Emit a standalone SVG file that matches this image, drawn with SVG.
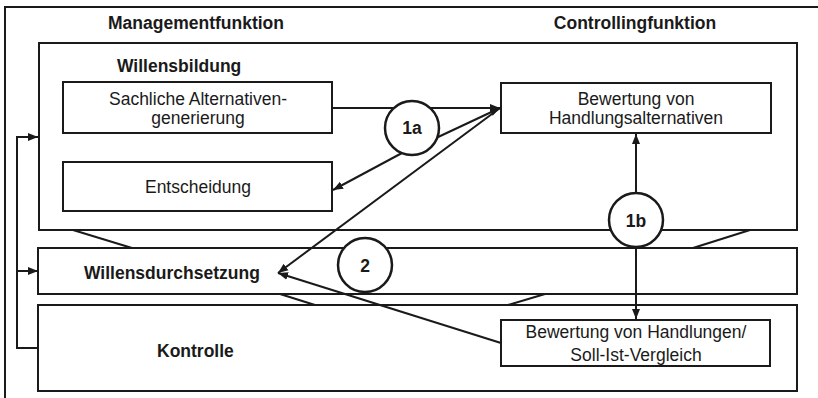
<svg xmlns="http://www.w3.org/2000/svg" width="818" height="398" viewBox="0 0 818 398">
<style>
.b{fill:#fff;stroke:#1a1a1a;stroke-width:2}
.l{fill:none;stroke:#1a1a1a;stroke-width:2}
.c{fill:#fff;stroke:#1a1a1a;stroke-width:2.5}
.t{font-family:"Liberation Sans",Arial,sans-serif;font-size:17.5px;fill:#1a1a1a}
.h{font-family:"Liberation Sans",Arial,sans-serif;font-size:17.5px;font-weight:bold;fill:#1a1a1a}
.m{text-anchor:middle}
</style>
<defs>
<marker id="a" viewBox="0 0 10 10" refX="10" refY="5" markerWidth="5" markerHeight="5" orient="auto-start-reverse" markerUnits="strokeWidth">
<path d="M0,1 L10,5 L0,9 z" fill="#1a1a1a"/>
</marker>
</defs>
<rect width="818" height="398" fill="#fff"/>
<path class="l" d="M5,398 V7 H818"/>
<text class="h m" x="196" y="29">Managementfunktion</text>
<text class="h m" x="635" y="29">Controllingfunktion</text>
<g id="willensbildung">
<rect class="b" x="39" y="43" width="758" height="187"/>
<text class="h" x="117" y="72">Willensbildung</text>
</g>
<g id="trapez">
<path class="l" d="M73,230 L132,248 M750,230 L693,248 M280,294 L315,305 M545,294 L508,305"/>
</g>
<g id="willensdurchsetzung">
<rect class="b" x="38" y="248" width="759" height="46"/>
<text class="h" x="84" y="279">Willensdurchsetzung</text>
</g>
<g id="kontrolle">
<rect class="b" x="38" y="305" width="759" height="86"/>
<text class="h" x="157" y="357">Kontrolle</text>
</g>
<g id="sachliche">
<rect class="b" x="63" y="82" width="269" height="51"/>
<text class="t m" x="198" y="105">Sachliche Alternativen-</text>
<text class="t m" x="198" y="124">generierung</text>
</g>
<g id="entscheidung">
<rect class="b" x="63" y="162" width="269" height="49"/>
<text class="t m" x="198" y="193">Entscheidung</text>
</g>
<g id="bewertung-alternativen">
<rect class="b" x="501" y="83" width="270" height="50"/>
<text class="t m" x="636" y="105">Bewertung von</text>
<text class="t m" x="636" y="124">Handlungsalternativen</text>
</g>
<g id="bewertung-handlungen">
<rect class="b" x="501" y="320" width="269" height="46"/>
<text class="t m" x="636" y="338">Bewertung von Handlungen/</text>
<text class="t m" x="636" y="361">Soll-Ist-Vergleich</text>
</g>
<g id="connectors">
<path class="l" d="M332,108 H500" marker-end="url(#a)"/>
<path class="l" d="M436,138 L500,108" marker-end="url(#a)"/>
<path class="l" d="M402,153 L333,190" marker-end="url(#a)"/>
<path class="l" d="M500,108 L278,273" marker-end="url(#a)"/>
<path class="l" d="M501,343 L278,273" marker-end="url(#a)"/>
<path class="l" d="M636,134 V319" marker-start="url(#a)" marker-end="url(#a)"/>
<path class="l" d="M38,348 H17 V137 H38" marker-end="url(#a)"/>
<path class="l" d="M17,271 H38" marker-end="url(#a)"/>
</g>
<g id="circle-1a">
<circle class="c" cx="412" cy="128" r="27"/>
<text class="h m" x="412" y="134">1a</text>
</g>
<g id="circle-1b">
<circle class="c" cx="636" cy="220" r="27"/>
<text class="h m" x="636" y="227">1b</text>
</g>
<g id="circle-2">
<circle class="c" cx="365" cy="265" r="27"/>
<text class="h m" x="365" y="272">2</text>
</g>
</svg>
